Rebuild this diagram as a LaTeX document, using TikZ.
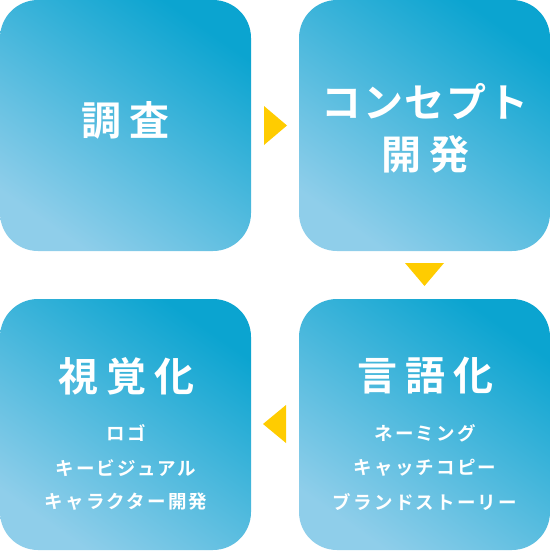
\documentclass[tikz,border=0pt]{standalone}
\usepackage{fontspec}
\newfontfamily\jpfont{Noto Sans CJK JP}[BoldFont={Noto Sans CJK JP Bold}]
\definecolor{boxdark}{HTML}{0BA4D0}
\definecolor{boxlight}{HTML}{8FCEEA}
\definecolor{arrowyellow}{HTML}{FFCC00}
\tikzset{
  stepbox/.style={rectangle, rounded corners=38pt, minimum width=251pt, minimum height=251pt,
    inner sep=0pt, draw=none, top color=boxdark, bottom color=boxlight, shading angle=-35},
  title/.style={text=white, inner sep=0pt,
    font=\jpfont\bfseries\fontsize{40}{48}\selectfont\addfontfeature{LetterSpace=20}},
  titlekana/.style={text=white, inner sep=0pt,
    font=\jpfont\bfseries\fontsize{40}{48}\selectfont\addfontfeature{LetterSpace=4}},
  item/.style={text=white, inner sep=0pt,
    font=\jpfont\bfseries\fontsize{18.5}{22}\selectfont\addfontfeature{LetterSpace=12}},
  pointer/.style={fill=arrowyellow, draw=none}
}
\begin{document}
\begin{tikzpicture}[x=1pt, y=-1pt]
  \useasboundingbox (0,0) rectangle (550,551);

  % the four steps
  \node [stepbox] (research) at (125.5,125.5) {};
  \node [stepbox] (concept) at (424.5,125.5) {};
  \node [stepbox] (verbal) at (424.5,424.5) {};
  \node [stepbox] (visual) at (125.5,424.5) {};

  % titles
  \node [title] (researchT) at (125,120) {調査};
  \node [titlekana] (conceptT) at (425,102) {コンセプト};
  \node [title] (conceptT2) at (425,154) {開発};
  \node [title] (verbalT) at (425,376) {言語化};
  \node [title] (visualT) at (126,376) {視覚化};

  % sub items
  \node [item] (verbalA) at (425,433) {ネーミング};
  \node [item] (verbalB) at (425,468) {キャッチコピー};
  \node [item] (verbalC) at (425,502) {ブランドストーリー};
  \node [item] (visualA) at (126,433) {ロゴ};
  \node [item] (visualB) at (126,468) {キービジュアル};
  \node [item] (visualC) at (126,502) {キャラクター開発};

  % yellow pointers
  \fill [pointer] (264,106) -- (287,125.5) -- (264,145) -- cycle;
  \fill [pointer] (405,263) -- (444,263) -- (424.5,286) -- cycle;
  \fill [pointer] (286,405) -- (263,424) -- (286,443) -- cycle;
\end{tikzpicture}
\end{document}
